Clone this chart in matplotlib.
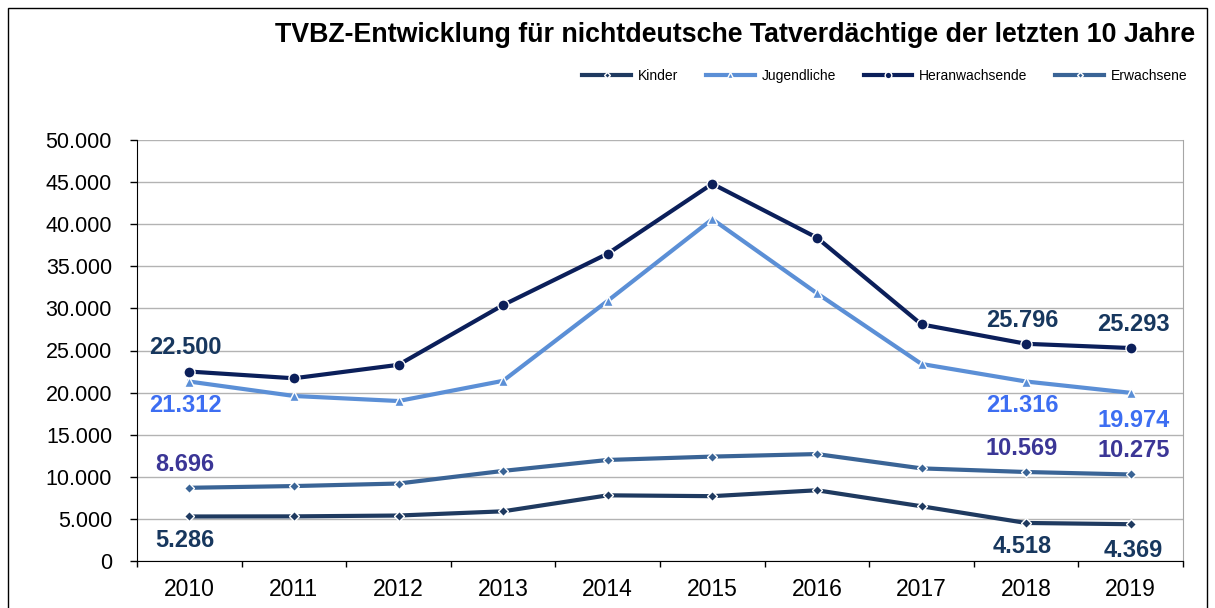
import matplotlib.pyplot as plt
from matplotlib.patches import Rectangle
from matplotlib.ticker import FuncFormatter, MultipleLocator
import numpy as np

# --- Data ---
years = [2010, 2011, 2012, 2013, 2014, 2015, 2016, 2017, 2018, 2019]
kinder = [5286, 5300, 5400, 5900, 7800, 7700, 8400, 6500, 4518, 4369]
jugendliche = [21312, 19600, 19000, 21400, 30900, 40600, 31800, 23400, 21316, 19974]
heranwachsende = [22500, 21700, 23300, 30400, 36500, 44800, 38400, 28100, 25796, 25293]
erwachsene = [8696, 8900, 9200, 10700, 12000, 12400, 12700, 11000, 10569, 10275]

# indices of years that carry a value label
labelled = [0, 8, 9]

plt.rcParams["font.family"] = ["Liberation Sans", "DejaVu Sans"]

fig = plt.figure(figsize=(12.15, 6.08), dpi=100)
ax = fig.add_axes([137/1215, 1 - 561/608, (1183-137)/1215, (561-140)/608])

# outer chart frame
fig.patches.append(Rectangle((8/1215, -0.01), 1199/1215, 1 - 8/608 + 0.01,
                             transform=fig.transFigure, fill=False,
                             ec="black", lw=1.0))

x = np.arange(len(years))

series = [
    # name, values, line colour, marker, marker size, label colour, label offset
    ("Kinder", kinder, "#1f3a60", "D", 5, "#17375e", -17),
    ("Jugendliche", jugendliche, "#5b8fd6", "^", 7, "#3d6ef2", -17),
    ("Heranwachsende", heranwachsende, "#0b1f5a", "o", 8, "#17375e", 17),
    ("Erwachsene", erwachsene, "#3a6496", "D", 5, "#3b3696", 17),
]

for name, vals, col, mk, ms, lcol, off in series:
    ax.plot(x, vals, color=col, lw=3.0, marker=mk, ms=ms,
            mec="white", mew=1.0, label=name, zorder=3)
    for i in labelled:
        o = off
        if name == "Jugendliche" and i == 9:
            o = -20
        if name == "Kinder" and i == 9:
            o = -19
        dx = 2 if i == 9 else -3
        ax.annotate(f"{vals[i]:,}".replace(",", "."), (x[i], vals[i]),
                    xytext=(dx, o), textcoords="offset points",
                    ha="center", va="center", fontsize=17, fontweight="bold",
                    color=lcol, zorder=4)

ax.set_xlim(-0.5, 9.5)
ax.set_ylim(0, 50000)
ax.yaxis.set_major_locator(MultipleLocator(5000))
ax.yaxis.set_major_formatter(FuncFormatter(lambda v, p: f"{int(v):,}".replace(",", ".")))
ax.set_xticks(x)
ax.set_xticklabels([str(y) for y in years])
ax.set_xticks(np.arange(-0.5, 10, 1), minor=True)
ax.tick_params(axis="x", which="major", length=0, pad=12, labelsize=16.5)
ax.tick_params(axis="x", which="minor", length=4, width=1, direction="out")
ax.tick_params(axis="y", length=5, width=1, direction="out", labelsize=15.5, pad=13)

ax.grid(True, axis="y", color="#b3b3b3", lw=1.0)
ax.grid(False, axis="x")
ax.set_axisbelow(True)
ax.spines["top"].set_visible(False)
ax.spines["right"].set_color("#a6a6a6")
ax.spines["left"].set_color("black")
ax.spines["bottom"].set_color("black")

fig.text(1195/1215, 1 - 35/608, "TVBZ-Entwicklung für nichtdeutsche Tatverdächtige der letzten 10 Jahre",
         ha="right", va="center", fontsize=19.3, fontweight="bold")

fig.legend(loc="center right", bbox_to_anchor=(1200/1215, 1 - 76/608), ncol=4,
           frameon=False, fontsize=10, handlelength=3.5, columnspacing=2.0,
           handletextpad=0.5, markerscale=0.6)

fig.savefig("out.png", dpi=100)
